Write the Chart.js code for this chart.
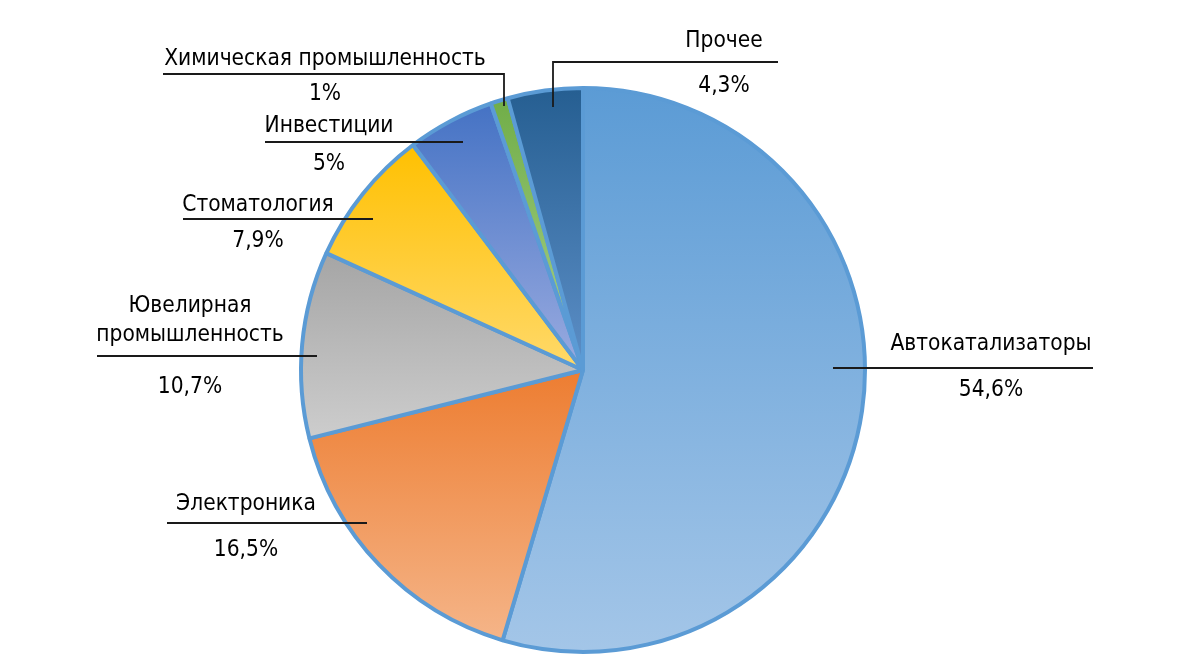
<!DOCTYPE html>
<html>
<head>
<meta charset="utf-8">
<script src="https://cdn.jsdelivr.net/npm/chart.js@4/dist/chart.umd.min.js"></script>
<style>
html, body { margin: 0; padding: 0; background: #fff; }
#wrap { width: 1183px; height: 658px; }
</style>
</head>
<body>
<div id="wrap"><canvas id="pieChart"></canvas></div>
<script>
const categories = ['Автокатализаторы', 'Электроника', ['Ювелирная', 'промышленность'], 'Стоматология', 'Инвестиции', 'Химическая промышленность', 'Прочее'];
const shares = [54.6, 16.5, 10.7, 7.9, 5, 1, 4.3];
const shareLabels = ['54,6%', '16,5%', '10,7%', '7,9%', '5%', '1%', '4,3%'];
const topColors = ['#5b9bd5', '#ed7d31', '#a5a5a5', '#ffc000', '#4472c4', '#70ad47', '#255e91'];
const bottomColors = ['#a4c6e8', '#f5b589', '#cdcdcd', '#ffd96a', '#9aabe0', '#a9d18e', '#5d8fc7'];

// label placement, px offsets from pie centre for a radius of 283
// t: title baselines, v: value baseline, ln: [x0, x1, y], drop: [x, y] for the elbow lines
const labelLayout = [
    { x: 408, t: [-20], v: 26, ln: [250, 510, -2] },
    { x: -337, t: [140], v: 186, ln: [-416, -216, 153] },
    { x: -393, t: [-58, -29], v: 23, ln: [-486, -266, -14] },
    { x: -325, t: [-159], v: -123, ln: [-400, -210, -151] },
    { x: -254, t: [-238], v: -200, ln: [-318, -120, -228] },
    { x: -258, t: [-305], v: -270, ln: [-420, -79, -296], drop: [-79, -264] },
    { x: 141, t: [-323], v: -278, ln: [-30, 195, -308], drop: [-30, -263] },
];

const FONT = '"Liberation Sans Narrow", "DejaVu Sans Condensed", sans-serif';

function sliceGradient(context) {
    const chart = context.chart;
    const i = context.dataIndex;
    const area = chart.chartArea;
    if (!area) return topColors[i];
    const cx = (area.left + area.right) / 2;
    const cy = (area.top + area.bottom) / 2;
    const r = Math.min(area.right - area.left, area.bottom - area.top) / 2;
    const total = shares.reduce((a, b) => a + b, 0);
    let cum = 0;
    for (let k = 0; k < i; k++) cum += shares[k];
    const a0 = -Math.PI / 2 + 2 * Math.PI * cum / total;
    const a1 = a0 + 2 * Math.PI * shares[i] / total;
    let ys = [cy, cy + r * Math.sin(a0), cy + r * Math.sin(a1)];
    [-Math.PI / 2, Math.PI / 2, 3 * Math.PI / 2].forEach(a => {
        if (a >= a0 && a <= a1) ys.push(cy + r * Math.sin(a));
    });
    const y0 = Math.min(...ys), y1 = Math.max(...ys);
    const g = chart.ctx.createLinearGradient(0, y0, 0, y1 + 0.01);
    g.addColorStop(0, topColors[i]);
    g.addColorStop(1, bottomColors[i]);
    return g;
}

const calloutPlugin = {
    id: 'callouts',
    afterDraw(chart) {
        const arc = chart.getDatasetMeta(0).data[0];
        if (!arc) return;
        const cx = arc.x, cy = arc.y;
        const s = 1;
        const ctx = chart.ctx;
        ctx.save();
        ctx.fillStyle = '#000';
        ctx.strokeStyle = '#1a1a1a';
        ctx.lineWidth = 1.8;
        ctx.font = '22.5px ' + FONT;
        ctx.textAlign = 'center';
        ctx.textBaseline = 'alphabetic';
        labelLayout.forEach((L, i) => {
            const lines = Array.isArray(categories[i]) ? categories[i] : [categories[i]];
            lines.forEach((txt, j) => ctx.fillText(txt, cx + L.x * s, cy + L.t[j] * s));
            ctx.fillText(shareLabels[i], cx + L.x * s, cy + L.v * s);
            ctx.beginPath();
            if (L.drop && L.drop[0] === L.ln[0]) {
                ctx.moveTo(cx + L.drop[0] * s, cy + L.drop[1] * s);
                ctx.lineTo(cx + L.ln[0] * s, cy + L.ln[2] * s);
                ctx.lineTo(cx + L.ln[1] * s, cy + L.ln[2] * s);
            } else {
                ctx.moveTo(cx + L.ln[0] * s, cy + L.ln[2] * s);
                ctx.lineTo(cx + L.ln[1] * s, cy + L.ln[2] * s);
                if (L.drop) ctx.lineTo(cx + L.drop[0] * s, cy + L.drop[1] * s);
            }
            ctx.stroke();
        });
        ctx.restore();
    }
};

new Chart(document.getElementById('pieChart'), {
    type: 'pie',
    data: {
        labels: categories,
        datasets: [
            {
                data: shares,
                backgroundColor: sliceGradient,
                borderColor: '#5b9bd5',
                borderWidth: 4,
            },
        ],
    },
    options: {
        responsive: true,
        maintainAspectRatio: false,
        animation: false,
        layout: {
            padding: { left: 299, right: 316, top: 86, bottom: 4 },
        },
        plugins: {
            legend: { display: false },
            tooltip: { enabled: false },
        },
    },
    plugins: [calloutPlugin],
});
</script>
</body>
</html>
